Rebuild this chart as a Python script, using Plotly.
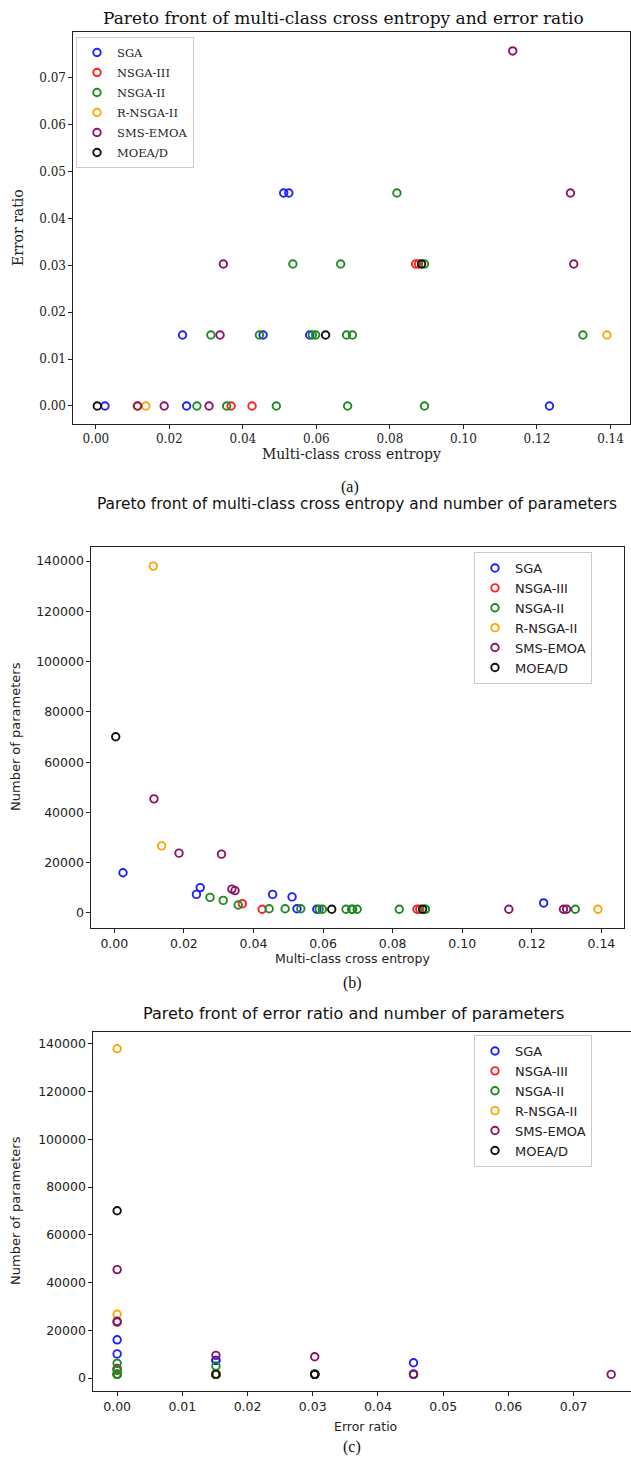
import plotly.graph_objects as go

# ---------------- data ----------------
algorithms = ["SGA", "NSGA-III", "NSGA-II", "R-NSGA-II", "SMS-EMOA", "MOEA/D"]
colors = ["#1f1fff", "#ff2020", "#1f8a1f", "#ffa500", "#8b1464", "#101010"]

sga_ce = [0.0025, 0.0247, 0.0236, 0.0455, 0.0511, 0.0525, 0.0582, 0.1234]
sga_err = [0.0, 0.0, 0.01515, 0.01515, 0.04545, 0.04545, 0.01515, 0.0]
sga_params = [16000, 10100, 7400, 7400, 6400, 1700, 1500, 4000]

nsga3_ce = [0.0368, 0.0425, 0.0870, 0.0878]
nsga3_err = [0.0, 0.0, 0.0303, 0.0303]
nsga3_params = [3700, 1500, 1500, 1500]

nsga2_ce = [0.0275, 0.0356, 0.0491, 0.0685, 0.0894, 0.0313, 0.0445, 0.0589,
            0.0598, 0.0682, 0.0698, 0.1325, 0.0536, 0.0666, 0.0894, 0.0819]
nsga2_err = [0.0, 0.0, 0.0, 0.0, 0.0, 0.01515, 0.01515, 0.01515,
             0.01515, 0.01515, 0.01515, 0.01515, 0.0303, 0.0303, 0.0303, 0.04545]
nsga2_params = [6200, 3200, 1700, 1500, 1500, 5000, 1700, 1500,
                1500, 1500, 1500, 1500, 1700, 1500, 1500, 1500]

rnsga2_ce = [0.0112, 0.0136, 0.1390]
rnsga2_err = [0.0, 0.0, 0.01515]
rnsga2_params = [138000, 26700, 1500]

sms_ce = [0.0114, 0.0186, 0.0308, 0.0338, 0.0347, 0.1134, 0.1291, 0.1300]
sms_err = [0.0, 0.0, 0.0, 0.01515, 0.0303, 0.07576, 0.04545, 0.0303]
sms_params = [45400, 23800, 23400, 9500, 8900, 1500, 1500, 1500]

moead_ce = [0.0004, 0.0625, 0.0886]
moead_err = [0.0, 0.01515, 0.0303]
moead_params = [70100, 1500, 1500]

series = [
    (sga_ce, sga_err, sga_params),
    (nsga3_ce, nsga3_err, nsga3_params),
    (nsga2_ce, nsga2_err, nsga2_params),
    (rnsga2_ce, rnsga2_err, rnsga2_params),
    (sms_ce, sms_err, sms_params),
    (moead_ce, moead_err, moead_params),
]

titles = [
    "Pareto front of multi-class cross entropy and error ratio",
    "Pareto front of multi-class cross entropy and number of parameters",
    "Pareto front of error ratio and number of parameters",
]
captions = ["(a)", "(b)", "(c)"]

# ---------------- layout helpers ----------------
W, H = 631, 1459
SERIF = "DejaVu Serif"
SANS = "DejaVu Sans"


def px(x):
    return x / W


def py(y):
    return 1 - y / H


fig = go.Figure()

panels = [
    # (x key, y key, legend key, x data idx, y data idx)
    ("x", "y", "legend", 0, 1),
    ("x2", "y2", "legend2", 0, 2),
    ("x3", "y3", "legend3", 1, 2),
]

for pi, (xk, yk, lk, xi, yi) in enumerate(panels):
    for name, col, data in zip(algorithms, colors, series):
        fig.add_trace(go.Scatter(
            x=data[xi], y=data[yi], mode="markers", name=name,
            xaxis=xk, yaxis=yk, legend=lk, legendgroup=f"{lk}-{name}",
            marker=dict(symbol="circle-open", size=7.5, color=col,
                        line=dict(width=1.9, color=col)),
            showlegend=True,
        ))

axis_common = dict(showgrid=False, zeroline=False, showline=True, linecolor="#222",
                   linewidth=1.2, mirror=True, ticks="outside", ticklen=3.5,
                   tickcolor="#222", tickwidth=1)

# panel pixel boxes: left, right, top, bottom
box_a = (73, 630, 32, 424)
box_b = (91, 624, 547, 928)
box_c = (93, 631, 1032, 1391)

fig.update_layout(
    width=W, height=H,
    margin=dict(l=0, r=0, t=0, b=0),
    paper_bgcolor="white", plot_bgcolor="white",
    xaxis=dict(domain=[px(box_a[0]), px(box_a[1])], range=[-0.0062, 0.1453],
               dtick=0.02, tick0=0, tickformat=".2f", anchor="y",
               tickfont=dict(family=SERIF, size=12, color="#222"), **axis_common),
    yaxis=dict(domain=[py(box_a[3]), py(box_a[2])], range=[-0.00385, 0.0798],
               dtick=0.01, tick0=0, tickformat=".2f", anchor="x",
               tickfont=dict(family=SERIF, size=12, color="#222"), **axis_common),
    xaxis2=dict(domain=[px(box_b[0]), px(box_b[1])], range=[-0.0067, 0.1465],
                dtick=0.02, tick0=0, tickformat=".2f", anchor="y2",
                tickfont=dict(family=SANS, size=12.5, color="#222"), **axis_common),
    yaxis2=dict(domain=[py(box_b[3]), py(box_b[2])], range=[-5970, 145600],
                dtick=20000, tick0=0, tickformat="d", anchor="x2",
                tickfont=dict(family=SANS, size=12.5, color="#222"), **axis_common),
    xaxis3=dict(domain=[px(box_c[0]), px(box_c[1])], range=[-0.0037, 0.0788],
                dtick=0.01, tick0=0, tickformat=".2f", anchor="y3",
                tickfont=dict(family=SANS, size=12.5, color="#222"), **axis_common),
    yaxis3=dict(domain=[py(box_c[3]), py(box_c[2])], range=[-5450, 145000],
                dtick=20000, tick0=0, tickformat="d", anchor="x3",
                tickfont=dict(family=SANS, size=12.5, color="#222"), **axis_common),
    legend=dict(x=px(76), y=py(37), xanchor="left", yanchor="top",
                bgcolor="white", bordercolor="#cccccc", borderwidth=1,
                font=dict(family=SERIF, size=11.5, color="#222"),
                itemwidth=30, tracegroupgap=1),
    legend2=dict(x=px(474), y=py(552), xanchor="left", yanchor="top",
                 bgcolor="white", bordercolor="#cccccc", borderwidth=1,
                 font=dict(family=SANS, size=13, color="#222"),
                 itemwidth=30, tracegroupgap=0),
    legend3=dict(x=px(474), y=py(1035), xanchor="left", yanchor="top",
                 bgcolor="white", bordercolor="#cccccc", borderwidth=1,
                 font=dict(family=SANS, size=13, color="#222"),
                 itemwidth=30, tracegroupgap=0),
    showlegend=True,
)

annots = []
# titles
annots.append(dict(text=titles[0], x=px(343), y=py(18), font=dict(family=SERIF, size=17, color="#111")))
annots.append(dict(text=titles[1], x=px(357), y=py(504), font=dict(family=SANS, size=15.4, color="#111")))
annots.append(dict(text=titles[2], x=px(353), y=py(1013), font=dict(family=SANS, size=16, color="#111")))
# x-axis titles
annots.append(dict(text="Multi-class cross entropy", x=px(351), y=py(454), font=dict(family=SERIF, size=14, color="#222")))
annots.append(dict(text="Multi-class cross entropy", x=px(352), y=py(958), font=dict(family=SANS, size=12.5, color="#222")))
annots.append(dict(text="Error ratio", x=px(365), y=py(1426), font=dict(family=SANS, size=12.5, color="#222")))
# y-axis titles
annots.append(dict(text="Error ratio", x=px(18), y=py(228), textangle=-90, font=dict(family=SERIF, size=14, color="#222")))
annots.append(dict(text="Number of parameters", x=px(15), y=py(737), textangle=-90, font=dict(family=SANS, size=13, color="#222")))
annots.append(dict(text="Number of parameters", x=px(15), y=py(1211), textangle=-90, font=dict(family=SANS, size=13, color="#222")))
# captions
annots.append(dict(text=captions[0], x=px(350), y=py(487), font=dict(family="Liberation Serif", size=16, color="#111")))
annots.append(dict(text=captions[1], x=px(352), y=py(983), font=dict(family="Liberation Serif", size=16, color="#111")))
annots.append(dict(text=captions[2], x=px(352), y=py(1447), font=dict(family="Liberation Serif", size=16, color="#111")))

for a in annots:
    a.update(xref="paper", yref="paper", xanchor="center", yanchor="middle", showarrow=False)
fig.update_layout(annotations=annots)

fig.write_html(
    "out.html",
    config={"displayModeBar": False},
    post_script="document.body.style.margin='0px';document.body.style.overflow='hidden';",
)
